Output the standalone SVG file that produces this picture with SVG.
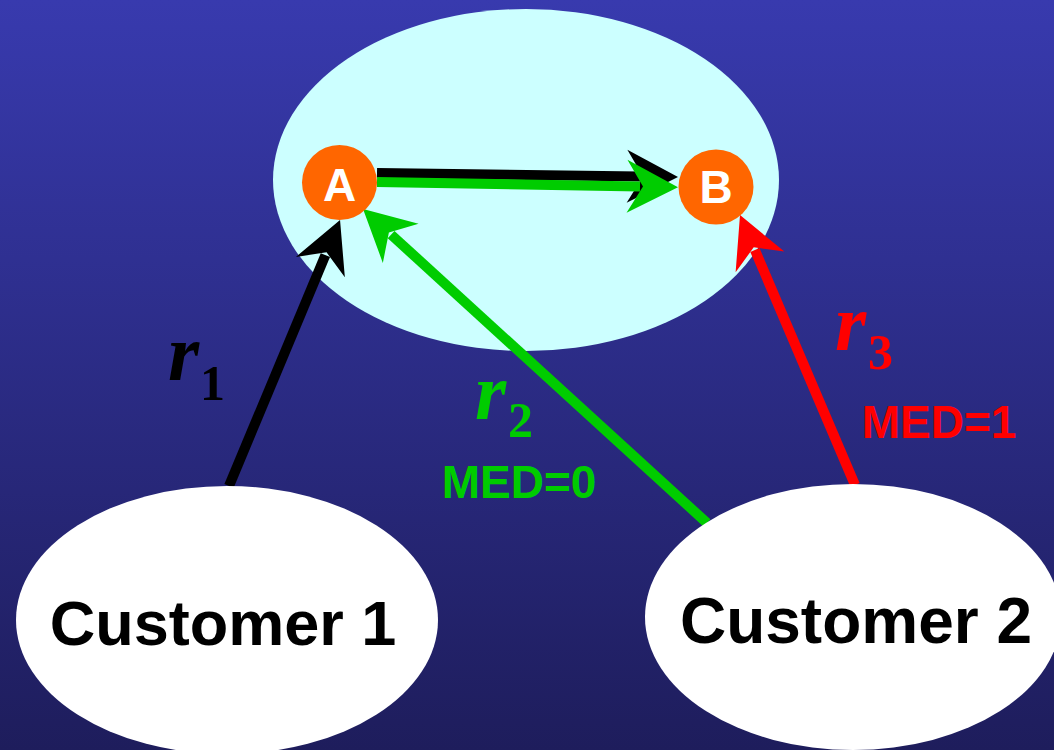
<svg xmlns="http://www.w3.org/2000/svg" width="1054" height="750" viewBox="0 0 1054 750">
  <defs>
    <linearGradient id="bg" x1="0" y1="0" x2="0" y2="1">
      <stop offset="0" stop-color="#383aae"/>
      <stop offset="1" stop-color="#1e1d5c"/>
    </linearGradient>
    <!-- stealth arrowheads; tip sits 38 units past the line end -->
    <marker id="head-black" viewBox="-15 -30 60 60" markerWidth="60" markerHeight="60" markerUnits="userSpaceOnUse" refX="0" refY="0" orient="auto">
      <path d="M38,0 L-13,-26.5 L3,0 L-13,26.5 Z" fill="#000"/>
    </marker>
    <marker id="head-green" viewBox="-15 -30 60 60" markerWidth="60" markerHeight="60" markerUnits="userSpaceOnUse" refX="0" refY="0" orient="auto">
      <path d="M38,0 L-13,-26.5 L3,0 L-13,26.5 Z" fill="#00cc00"/>
    </marker>
    <marker id="head-red" viewBox="-15 -30 60 60" markerWidth="60" markerHeight="60" markerUnits="userSpaceOnUse" refX="0" refY="0" orient="auto">
      <path d="M38,0 L-13,-26.5 L3,0 L-13,26.5 Z" fill="#ff0000"/>
    </marker>
  </defs>
  <style>
    .edge { fill: none; stroke-width: 10; stroke-linecap: butt; }
    .router { fill: #ff6600; }
    .router-label { font-family: "Liberation Sans", Arial, sans-serif; font-weight: bold; font-size: 46px; fill: #fff; text-anchor: middle; }
    .customer { fill: #fff; }
    .customer-label { font-family: "Liberation Sans", Arial, sans-serif; font-weight: bold; font-size: 63px; fill: #000; text-anchor: middle; }
    .route { font-family: "Liberation Serif", "Times New Roman", serif; font-weight: bold; font-style: italic; font-size: 80px; }
    .sub { font-style: normal; font-weight: bold; font-size: 50px; }
    .med { font-family: "Liberation Sans", Arial, sans-serif; font-weight: bold; font-size: 46px; text-anchor: middle; }
  </style>

  <rect x="0" y="0" width="1054" height="750" fill="url(#bg)"/>

  <!-- autonomous system boundary -->
  <g id="as">
    <ellipse cx="526" cy="180" rx="253" ry="171" fill="#ccffff"/>
  </g>

  <g id="connectors">
    <!-- internal route A to B (r1 and r2) -->
    <line class="edge" x1="377" y1="173" x2="640" y2="176.5" stroke="#000" marker-end="url(#head-black)"/>
    <line class="edge" x1="377" y1="182" x2="640" y2="186.5" stroke="#00cc00" marker-end="url(#head-green)"/>
    <!-- r1: Customer 1 to A -->
    <line class="edge" x1="229" y1="486" x2="325.4" y2="255.1" stroke="#000" marker-end="url(#head-black)"/>
    <!-- r2: Customer 2 to A -->
    <line class="edge" x1="707" y1="523" x2="391.1" y2="234.6" stroke="#00cc00" marker-end="url(#head-green)"/>
    <!-- r3: Customer 2 to B -->
    <line class="edge" x1="855" y1="485" x2="754.9" y2="250" stroke="#ff0000" marker-end="url(#head-red)"/>
  </g>

  <g id="node-a">
    <circle class="router" cx="339.5" cy="182.5" r="37.5"/>
    <text class="router-label" x="339.5" y="201">A</text>
  </g>
  <g id="node-b">
    <circle class="router" cx="716" cy="187" r="37.5"/>
    <text class="router-label" x="716" y="203">B</text>
  </g>

  <g id="customer-1">
    <ellipse class="customer" cx="227" cy="620" rx="211" ry="134"/>
    <text class="customer-label" x="223" y="645">Customer 1</text>
  </g>
  <g id="customer-2">
    <ellipse class="customer" cx="853" cy="617" rx="208" ry="133"/>
    <text class="customer-label" x="856" y="643" style="font-size:64px">Customer 2</text>
  </g>

  <g id="labels">
    <text class="route" x="168" y="380" fill="#000">r<tspan class="sub" x="200" y="400">1</tspan></text>
    <text class="route" x="475" y="419" fill="#00cc00">r<tspan class="sub" x="508" y="437">2</tspan></text>
    <text class="med" x="519" y="498" fill="#00cc00">MED=0</text>
    <text class="route" x="835" y="350" fill="#ff0000">r<tspan class="sub" x="868" y="369">3</tspan></text>
    <text class="med" x="939" y="438" fill="#ff0000">MED=1</text>
  </g>
</svg>
